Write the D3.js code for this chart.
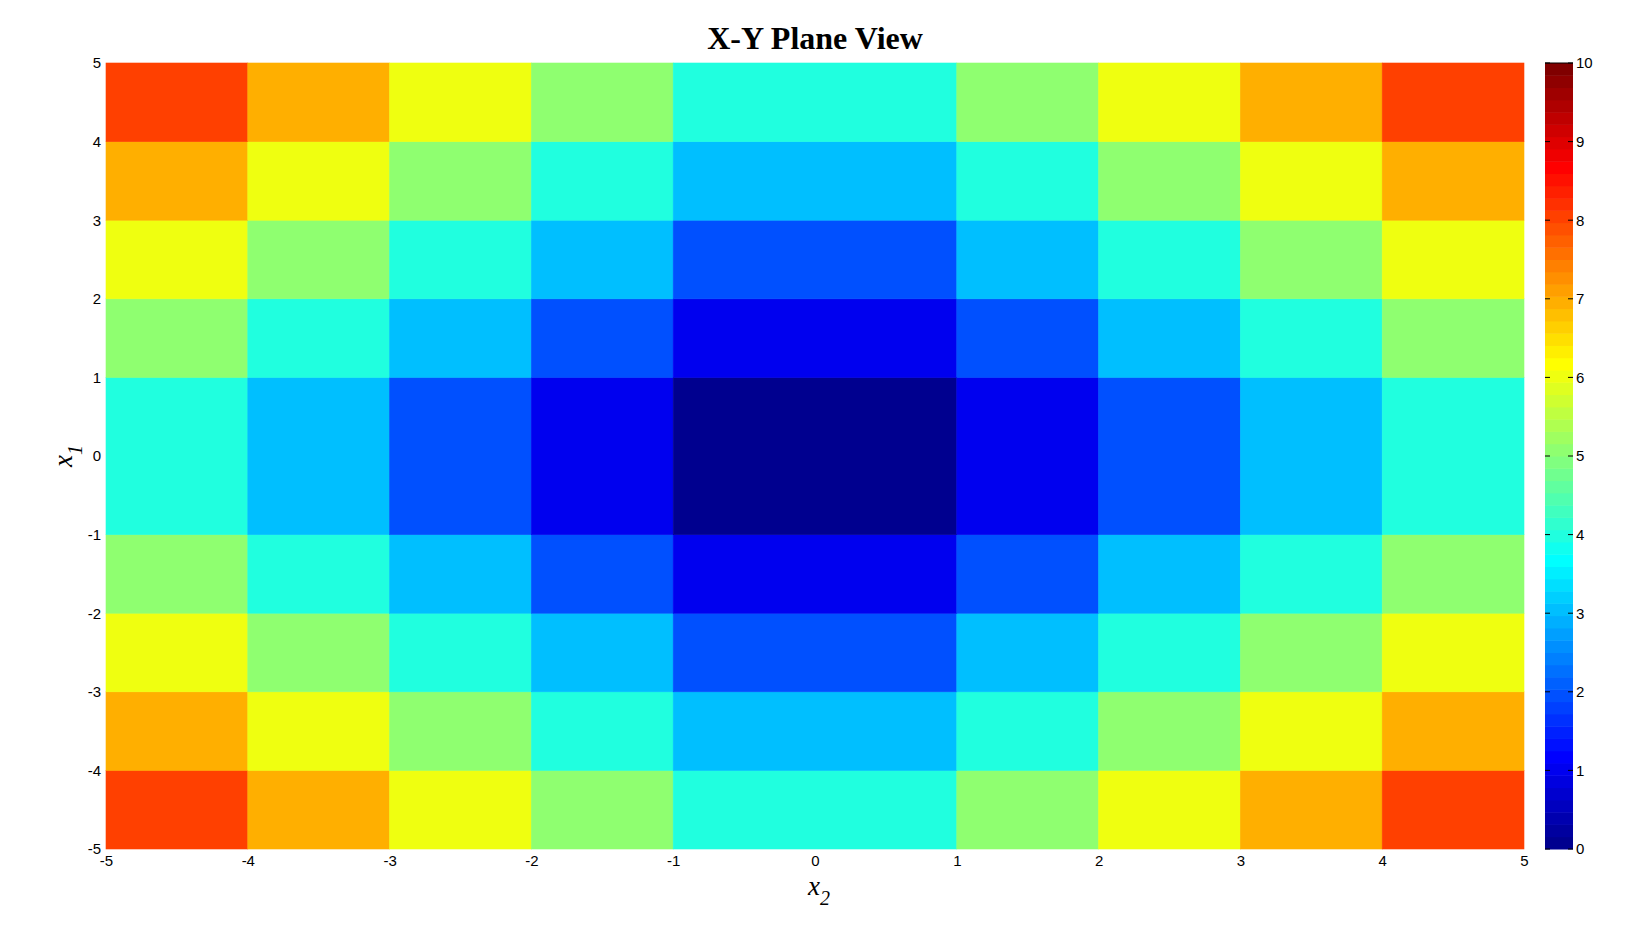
<!DOCTYPE html>
<html>
<head>
<meta charset="utf-8">
<script src="https://cdn.jsdelivr.net/npm/d3@7"></script>
<style>
  body { margin: 0; background: #fff; }
</style>
</head>
<body>
<script>
// Cell edges along each axis (the middle band spans -1..1)
const x2Edges = [-5, -4, -3, -2, -1, 1, 2, 3, 4, 5];
const x1Edges = [-5, -4, -3, -2, -1, 1, 2, 3, 4, 5];

// Cell values, one row per x1 band, bottom (-5..-4) to top (4..5)
const cellValues = [
  [8, 7, 6, 5, 4, 5, 6, 7, 8],
  [7, 6, 5, 4, 3, 4, 5, 6, 7],
  [6, 5, 4, 3, 2, 3, 4, 5, 6],
  [5, 4, 3, 2, 1, 2, 3, 4, 5],
  [4, 3, 2, 1, 0, 1, 2, 3, 4],
  [5, 4, 3, 2, 1, 2, 3, 4, 5],
  [6, 5, 4, 3, 2, 3, 4, 5, 6],
  [7, 6, 5, 4, 3, 4, 5, 6, 7],
  [8, 7, 6, 5, 4, 5, 6, 7, 8]
];

const axisTicks = [-5, -4, -3, -2, -1, 0, 1, 2, 3, 4, 5];
const colorbarTicks = [0, 1, 2, 3, 4, 5, 6, 7, 8, 9, 10];
const colorLimits = [0, 10];

const width = 1632, height = 945;
const plot = { left: 106, top: 63, right: 1524, bottom: 849 };
const cbar = { left: 1545, right: 1573 };
const tickFont = "'Liberation Sans', Arial, sans-serif";
const serifFont = "'Liberation Serif', 'Times New Roman', serif";
const plainNumber = d => String(d); // plain hyphen for negatives, like MATLAB

// 64-step jet colormap, same as the MATLAB default of that era
function jet64() {
  const clamp = v => Math.max(0, Math.min(1, v));
  const colors = [];
  for (let k = 0; k < 64; k++) {
    const t = (k + 1) / 64;
    const r = clamp(Math.min(4 * t - 1.5, -4 * t + 4.5));
    const g = clamp(Math.min(4 * t - 0.5, -4 * t + 3.5));
    const b = clamp(Math.min(4 * t + 0.5, -4 * t + 2.5));
    colors.push(d3.rgb(r * 255, g * 255, b * 255).formatHex());
  }
  return colors;
}

const color = d3.scaleQuantize().domain(colorLimits).range(jet64());

const x = d3.scaleLinear().domain([-5, 5]).range([plot.left, plot.right]);
const y = d3.scaleLinear().domain([-5, 5]).range([plot.bottom, plot.top]);
const cy = d3.scaleLinear().domain(colorLimits).range([plot.bottom, plot.top]);

const svg = d3.select("body").append("svg")
  .attr("width", width)
  .attr("height", height);

// Build flat list of cells from the edges and values
const cells = [];
cellValues.forEach((row, i) => {
  row.forEach((v, j) => {
    cells.push({ x0: x2Edges[j], x1: x2Edges[j + 1], y0: x1Edges[i], y1: x1Edges[i + 1], v });
  });
});

svg.append("g")
  .selectAll("rect")
  .data(cells)
  .join("rect")
  .attr("x", d => x(d.x0))
  .attr("y", d => y(d.y1))
  .attr("width", d => x(d.x1) - x(d.x0))
  .attr("height", d => y(d.y0) - y(d.y1))
  .attr("fill", d => color(d.v))
  .attr("stroke", d => color(d.v))
  .attr("stroke-width", 0.6);

// Axes: labels only, tick marks are hidden under the patches
const xAxis = svg.append("g")
  .attr("transform", `translate(0,${plot.bottom})`)
  .call(d3.axisBottom(x).tickValues(axisTicks).tickSize(0).tickPadding(6).tickFormat(plainNumber));

const yAxis = svg.append("g")
  .attr("transform", `translate(${plot.left},0)`)
  .call(d3.axisLeft(y).tickValues(axisTicks).tickSize(0).tickPadding(5).tickFormat(plainNumber));

[xAxis, yAxis].forEach(a => {
  a.select(".domain").remove();
  a.selectAll("text")
    .attr("font-family", tickFont)
    .attr("font-size", "15px")
    .attr("fill", "#000");
});

// Title
svg.append("text")
  .attr("x", (plot.left + plot.right) / 2)
  .attr("y", 49)
  .attr("text-anchor", "middle")
  .attr("font-family", serifFont)
  .attr("font-weight", "bold")
  .attr("font-size", "32px")
  .text("X-Y Plane View");

// Axis labels with subscripts
function subLabel(sel, sub) {
  sel.attr("font-family", serifFont)
    .attr("font-style", "italic")
    .attr("font-size", "27px")
    .attr("text-anchor", "middle");
  sel.append("tspan").text("x");
  sel.append("tspan")
    .attr("dy", 10)
    .attr("font-size", "20px")
    .text(sub);
}

svg.append("text")
  .attr("x", (plot.left + plot.right) / 2 + 4)
  .attr("y", 895)
  .call(subLabel, "2");

svg.append("text")
  .attr("transform", `translate(72,${(plot.top + plot.bottom) / 2}) rotate(-90)`)
  .call(subLabel, "1");

// Colorbar: one band per colormap entry
const bandStep = (colorLimits[1] - colorLimits[0]) / 64;
const bandValues = d3.range(64).map(k => colorLimits[0] + (k + 0.5) * bandStep);

svg.append("g")
  .selectAll("rect")
  .data(bandValues)
  .join("rect")
  .attr("x", cbar.left)
  .attr("y", d => cy(d + bandStep / 2))
  .attr("width", cbar.right - cbar.left)
  .attr("height", d => cy(d - bandStep / 2) - cy(d + bandStep / 2) + 0.5)
  .attr("fill", d => color(d));

const cbarTicks = svg.append("g");
cbarTicks.selectAll("line.l")
  .data(colorbarTicks)
  .join("line")
  .attr("class", "l")
  .attr("x1", cbar.left).attr("x2", cbar.left + 5)
  .attr("y1", d => cy(d)).attr("y2", d => cy(d))
  .attr("stroke", "#000");
cbarTicks.selectAll("line.r")
  .data(colorbarTicks)
  .join("line")
  .attr("class", "r")
  .attr("x1", cbar.right - 5).attr("x2", cbar.right)
  .attr("y1", d => cy(d)).attr("y2", d => cy(d))
  .attr("stroke", "#000");

svg.append("line")
  .attr("x1", cbar.left).attr("x2", cbar.right)
  .attr("y1", cy(colorLimits[1])).attr("y2", cy(colorLimits[1]))
  .attr("stroke", "#000");

svg.append("g")
  .attr("transform", `translate(${cbar.right},0)`)
  .call(d3.axisRight(cy).tickValues(colorbarTicks).tickSize(0).tickPadding(3).tickFormat(plainNumber))
  .call(g => g.select(".domain").remove())
  .call(g => g.selectAll("text")
    .attr("font-family", tickFont)
    .attr("font-size", "15px")
    .attr("fill", "#000"));
</script>
</body>
</html>
